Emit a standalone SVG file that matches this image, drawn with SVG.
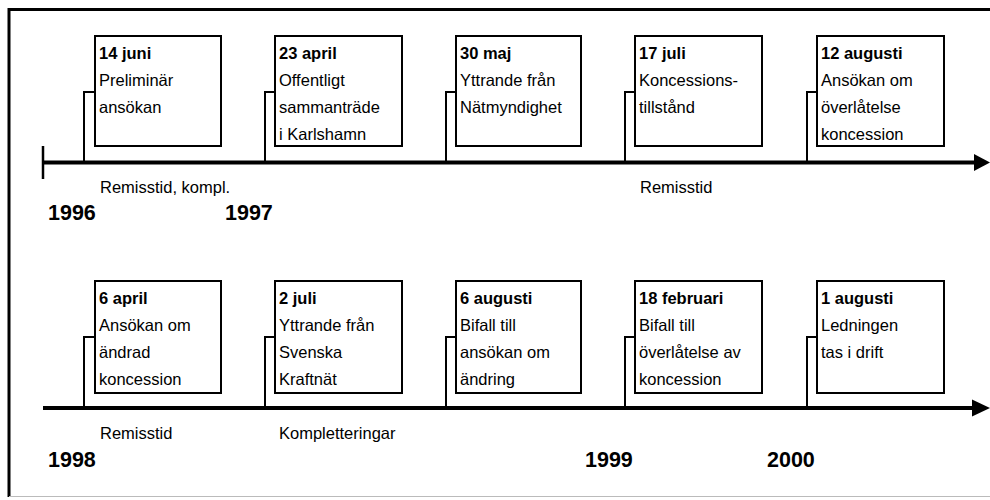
<svg xmlns="http://www.w3.org/2000/svg" width="990" height="500" viewBox="0 0 990 500">
<style>
.box{fill:#fff;stroke:#000;stroke-width:2}
.con{fill:none;stroke:#000;stroke-width:2}
.axis{fill:none;stroke:#000;stroke-width:4}
.t{font-family:"Liberation Sans",Arial,sans-serif;font-size:16.5px;fill:#000}
.b{font-weight:bold}
.yr{font-family:"Liberation Sans",Arial,sans-serif;font-size:21.5px;font-weight:bold;fill:#000}
</style>
<rect width="990" height="500" fill="#fff"/>
<g id="frame">
<line x1="9" y1="9.5" x2="990" y2="9.5" stroke="#000" stroke-width="3"/>
<line x1="9" y1="8" x2="9" y2="497" stroke="#000" stroke-width="3"/>
<line x1="9" y1="496.5" x2="990" y2="496.5" stroke="#bbb" stroke-width="1"/>
</g>
<g id="connectors">
<line class="axis" x1="43" y1="162.5" x2="976" y2="162.5"/>
<line x1="43" y1="146" x2="43" y2="179" stroke="#000" stroke-width="2.5"/>
<polygon points="974,154 990,162.5 974,171" fill="#000"/>
<polyline class="con" points="95,92 84,92 84,162"/>
<polyline class="con" points="275,92 265,92 265,162"/>
<polyline class="con" points="456,92 446,92 446,162"/>
<polyline class="con" points="635,92 625,92 625,162"/>
<polyline class="con" points="817,92 807,92 807,162"/>
<line class="axis" x1="43" y1="408" x2="976" y2="408"/>
<polygon points="972,399.5 990,408 972,416.5" fill="#000"/>
<polyline class="con" points="95,337 84,337 84,408"/>
<polyline class="con" points="275,337 265,337 265,408"/>
<polyline class="con" points="456,337 446,337 446,408"/>
<polyline class="con" points="635,337 625,337 625,408"/>
<polyline class="con" points="817,337 807,337 807,408"/>
</g>
<g id="n1"><rect class="box" x="95" y="36" width="126" height="110"/>
<text class="t b" x="99" y="59">14 juni</text><text class="t" x="99" y="86">Preliminär</text><text class="t" x="99" y="113">ansökan</text></g>
<g id="n2"><rect class="box" x="275" y="36" width="127" height="110"/>
<text class="t b" x="279" y="59">23 april</text><text class="t" x="279" y="86">Offentligt</text><text class="t" x="279" y="113">sammanträde</text><text class="t" x="279" y="140">i Karlshamn</text></g>
<g id="n3"><rect class="box" x="456" y="36" width="125" height="110"/>
<text class="t b" x="460" y="59">30 maj</text><text class="t" x="460" y="86">Yttrande från</text><text class="t" x="460" y="113">Nätmyndighet</text></g>
<g id="n4"><rect class="box" x="635" y="36" width="127" height="110"/>
<text class="t b" x="639" y="59">17 juli</text><text class="t" x="639" y="86">Koncessions-</text><text class="t" x="639" y="113">tillstånd</text></g>
<g id="n5"><rect class="box" x="817" y="36" width="127" height="110"/>
<text class="t b" x="821" y="59">12 augusti</text><text class="t" x="821" y="86">Ansökan om</text><text class="t" x="821" y="113">överlåtelse</text><text class="t" x="821" y="140">koncession</text></g>
<g id="n6"><rect class="box" x="95" y="281" width="126" height="112"/>
<text class="t b" x="99" y="304">6 april</text><text class="t" x="99" y="331">Ansökan om</text><text class="t" x="99" y="358">ändrad</text><text class="t" x="99" y="385">koncession</text></g>
<g id="n7"><rect class="box" x="275" y="281" width="127" height="112"/>
<text class="t b" x="279" y="304">2 juli</text><text class="t" x="279" y="331">Yttrande från</text><text class="t" x="279" y="358">Svenska</text><text class="t" x="279" y="385">Kraftnät</text></g>
<g id="n8"><rect class="box" x="456" y="281" width="125" height="112"/>
<text class="t b" x="460" y="304">6 augusti</text><text class="t" x="460" y="331">Bifall till</text><text class="t" x="460" y="358">ansökan om</text><text class="t" x="460" y="385">ändring</text></g>
<g id="n9"><rect class="box" x="635" y="281" width="127" height="112"/>
<text class="t b" x="639" y="304">18 februari</text><text class="t" x="639" y="331">Bifall till</text><text class="t" x="639" y="358">överlåtelse av</text><text class="t" x="639" y="385">koncession</text></g>
<g id="n10"><rect class="box" x="817" y="281" width="127" height="112"/>
<text class="t b" x="821" y="304">1 augusti</text><text class="t" x="821" y="331">Ledningen</text><text class="t" x="821" y="358">tas i drift</text></g>
<g id="labels">
<text class="t" x="100" y="193">Remisstid, kompl.</text>
<text class="t" x="640" y="193">Remisstid</text>
<text class="t" x="100" y="439">Remisstid</text>
<text class="t" x="279" y="439">Kompletteringar</text>
<text class="yr" x="48" y="220">1996</text>
<text class="yr" x="225" y="220">1997</text>
<text class="yr" x="48" y="467">1998</text>
<text class="yr" x="585" y="467">1999</text>
<text class="yr" x="767" y="467">2000</text>
</g>
</svg>
